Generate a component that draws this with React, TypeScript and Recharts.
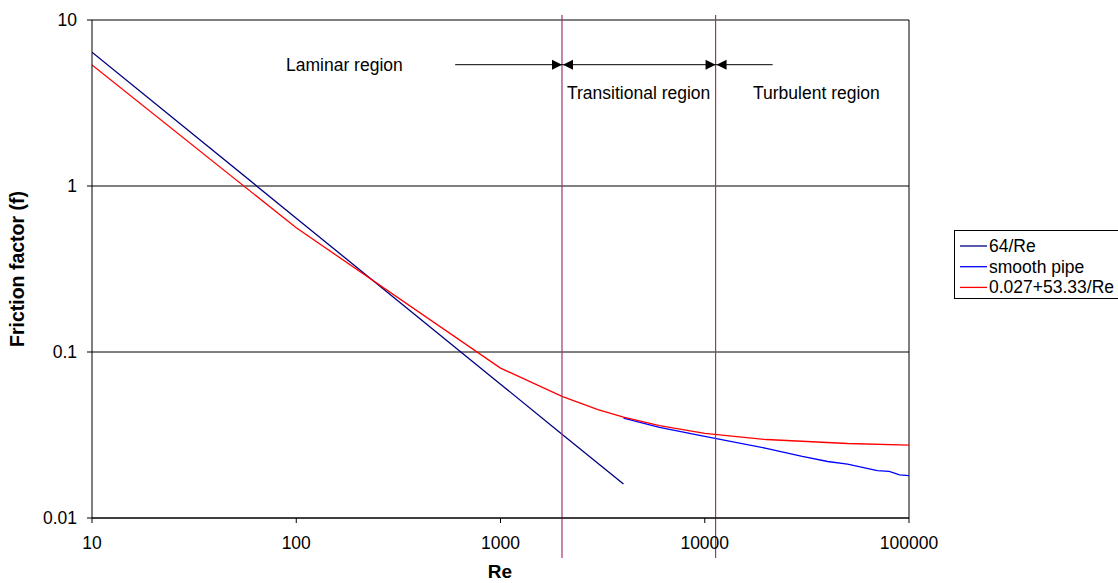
import React from "react";
import { LineChart, Line, XAxis, YAxis, CartesianGrid, ReferenceLine } from "recharts";

// Reynolds numbers and friction factors
const reLaminar = [10, 100, 1000, 2000, 4000];
const fLaminar = [6.4, 0.64, 0.064, 0.032, 0.016];

const reSmooth = [4000, 6000, 10000, 20000, 30000, 40000, 50000, 70000, 80000, 90000, 100000];
const fSmooth = [0.04, 0.0352, 0.031, 0.0263, 0.0235, 0.0219, 0.0211, 0.0193, 0.0191, 0.0182, 0.018];

const reFit = [10, 100, 1000, 2000, 3000, 4000, 6000, 10000, 20000, 50000, 100000];
const fFit = [5.36, 0.56, 0.08, 0.054, 0.045, 0.0405, 0.036, 0.0323, 0.0297, 0.0281, 0.0275];

const xTicks = [10, 100, 1000, 10000, 100000];
const yTicks = [0.01, 0.1, 1, 10];

// region boundaries and annotation arrows (Re)
const boundaries = [2000, 11300];
const arrowY = 5.38;
const arrows = [
  { from: 600, to: 2000, start: false, end: true },
  { from: 2000, to: 11300, start: true, end: true },
  { from: 11300, to: 21500, start: true, end: false },
];

const toRows = (xs: number[], ys: number[]) => xs.map((re, i) => ({ re, f: ys[i] }));

const series = [
  { name: "64/Re", color: "#000080", data: toRows(reLaminar, fLaminar) },
  { name: "smooth pipe", color: "#0000FF", data: toRows(reSmooth, fSmooth) },
  { name: "0.027+53.33/Re", color: "#FF0000", data: toRows(reFit, fFit) },
];

const FONT = "'Liberation Sans', Arial, sans-serif";
const BOUNDARY_COLOR = "#A3336E";

function Arrow(p: any, start: boolean, end: boolean) {
  const x1 = Math.min(p.x1, p.x2);
  const x2 = Math.max(p.x1, p.x2);
  const y = p.y1;
  return (
    <g>
      <line x1={x1} y1={y} x2={x2} y2={y} stroke="#000" strokeWidth={1} />
      {end && <polygon points={`${x2},${y} ${x2 - 10},${y - 5} ${x2 - 10},${y + 5}`} fill="#000" />}
      {start && <polygon points={`${x1 + 1},${y} ${x1 + 11},${y - 5} ${x1 + 11},${y + 5}`} fill="#000" />}
    </g>
  );
}

function Boundary(p: any) {
  const top = Math.min(p.y1, p.y2);
  const bottom = Math.max(p.y1, p.y2);
  return <line x1={p.x1} x2={p.x2} y1={top - 5} y2={bottom + 40} stroke={BOUNDARY_COLOR} strokeWidth={1.2} />;
}

export default function App() {
  const tick = { fill: "#000", fontSize: 17.5, fontFamily: FONT };
  return (
    <div style={{ position: "absolute", left: 0, top: 0, width: 1118, height: 583, overflow: "hidden", background: "#fff" }}>
      <LineChart width={1118} height={583} margin={{ top: 20, right: 209, bottom: 35, left: 12 }}>
        <CartesianGrid vertical={false} stroke="#000" strokeWidth={1} />
        <XAxis
          dataKey="re"
          type="number"
          scale="log"
          domain={[10, 100000]}
          ticks={xTicks}
          allowDataOverflow
          height={30}
          tickSize={5}
          tickMargin={14}
          tick={tick}
          axisLine={{ stroke: "#000" }}
          tickLine={{ stroke: "#000" }}
        />
        <YAxis
          dataKey="f"
          type="number"
          scale="log"
          domain={[0.01, 10]}
          ticks={yTicks}
          allowDataOverflow
          width={80}
          tickSize={5}
          tickMargin={10}
          tick={tick}
          axisLine={{ stroke: "#000" }}
          tickLine={{ stroke: "#000" }}
        />
        <ReferenceLine x={100000} stroke="#000" />
        {series.map((s) => (
          <Line
            key={s.name}
            data={s.data}
            dataKey="f"
            name={s.name}
            type="linear"
            stroke={s.color}
            strokeWidth={1.3}
            dot={false}
            activeDot={false}
            isAnimationActive={false}
          />
        ))}
        {boundaries.map((b) => (
          <ReferenceLine key={b} x={b} shape={Boundary} />
        ))}
        {arrows.map((a) => (
          <ReferenceLine
            key={a.from}
            segment={[{ x: a.from, y: arrowY }, { x: a.to, y: arrowY }]}
            shape={(p: any) => Arrow(p, a.start, a.end)}
          />
        ))}
      </LineChart>
      <svg width={1118} height={583} style={{ position: "absolute", left: 0, top: 0, pointerEvents: "none" }}>
        <g fontFamily={FONT} fontSize={17.5} fill="#000">
          <text x={286} y={71}>Laminar region</text>
          <text x={567} y={99}>Transitional region</text>
          <text x={753} y={99}>Turbulent region</text>
        </g>
        <text x={500} y={578} textAnchor="middle" fontFamily={FONT} fontSize={19} fontWeight="bold">Re</text>
        <text
          transform="translate(24, 269) rotate(-90)"
          textAnchor="middle"
          fontFamily={FONT}
          fontSize={19.5}
          fontWeight="bold"
        >
          Friction factor (f)
        </text>
        <rect x={954.5} y={230.5} width={220} height={68} fill="#fff" stroke="#000" />
        {series.map((s, i) => {
          const cy = 246 + i * 20.7;
          return (
            <g key={s.name}>
              <line x1={960} x2={987} y1={cy} y2={cy} stroke={s.color} strokeWidth={1.3} />
              <text x={989} y={cy + 6} fontFamily={FONT} fontSize={17.5}>{s.name}</text>
            </g>
          );
        })}
      </svg>
    </div>
  );
}
